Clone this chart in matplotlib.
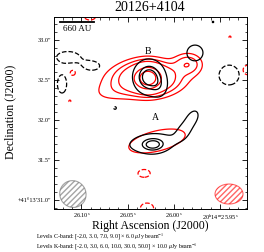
import numpy as np
import matplotlib
matplotlib.use("Agg")
import matplotlib.pyplot as plt
from matplotlib.patches import Ellipse
from matplotlib.ticker import FixedLocator, AutoMinorLocator

plt.rcParams['font.family'] = ['Liberation Serif', 'DejaVu Serif']
plt.rcParams['mathtext.fontset'] = 'stix'

title = "20126+4104"

# contour levels (units of rms) and rms in uJy/beam
levels_c = [-2.0, 3.0, 7.0, 9.0]
rms_c = 6.0
levels_k = [-2.0, 3.0, 6.0, 10.0, 30.0, 50.0]
rms_k = 10.0

# gaussian components: RA (s), Dec ("), peak (rms), sx ("), sy ("), angle (deg)
k_ra = [26.0280, 26.0280, 26.0312, 26.0658, 25.9846, 26.0182,
        26.1125, 26.1092, 26.0908, 25.9391, 25.9196, 26.0323, 26.0290]
k_dec = [32.525, 32.525, 32.5125, 32.35, 32.70, 31.7375,
         32.2375, 32.5875, 33.29, 33.0375, 32.625, 31.3375, 30.90]
k_peak = [40, 25, 6, 3, 9, 5,
          -2.3, -2.5, -2.5, -2.1, -2.5, -2.6, -2.6]
k_sx = [0.0875, 0.20, 0.35, 0.225, 0.1125, 0.35,
        0.0375, 0.0625, 0.10, 0.0375, 0.09, 0.11, 0.11]
k_sy = [0.0875, 0.125, 0.125, 0.10, 0.0875, 0.125,
        0.0375, 0.0625, 0.06, 0.0375, 0.09, 0.075, 0.085]
k_ang = [0, 0, 0, -10, 0, -14,
         0, 0, 0, 0, 0, 0, 0]

c_ra = [26.0269, 26.0150, 25.9770, 26.0225, 26.0236, 25.9889, 25.9792,
        26.1146, 26.0886, 26.1211, 25.9402, 26.0637, 25.9575]
c_dec = [32.5375, 32.40, 32.8375, 31.6875, 31.7125, 31.875, 32.0375,
         32.7875, 32.675, 32.45, 32.5625, 32.15, 33.225]
c_peak = [11, 3, 4, 6, 5, 3.6, 4,
          -3, -2.8, -3, -3, -2.2, -2.1]
c_sx = [0.125, 0.075, 0.13, 0.10, 0.26, 0.07, 0.065,
        0.15, 0.11, 0.0625, 0.1375, 0.0375, 0.03]
c_sy = [0.14, 0.10, 0.13, 0.0625, 0.10, 0.10, 0.10,
        0.075, 0.0625, 0.125, 0.1375, 0.0375, 0.03]
c_ang = [0, 0, 0, 0, -5, 35, 30,
         0, 0, 0, 0, 0, 0]

# synthesized beams in axes fraction: x, y, width, height, angle
beam_c = (0.098, 0.078, 0.135, 0.141, 30)
beam_k = (0.907, 0.078, 0.145, 0.104, 0)

ra_scale = 15 * np.cos(np.radians(41.225))  # arcsec per second of RA

ra = np.linspace(25.90, 26.15, 500)
dec = np.linspace(30.80, 33.40, 500)
RA, DEC = np.meshgrid(ra, dec)


def model(ras, decs, peaks, sxs, sys_, angs):
    img = np.zeros_like(RA)
    for r0, d0, p, sx, sy, a in zip(ras, decs, peaks, sxs, sys_, angs):
        dx = (RA - r0) * ra_scale
        dy = DEC - d0
        t = np.radians(a)
        u = dx * np.cos(t) + dy * np.sin(t)
        v = -dx * np.sin(t) + dy * np.cos(t)
        img += p * np.exp(-0.5 * ((u / sx) ** 2 + (v / sy) ** 2))
    return img


img_k = model(k_ra, k_dec, k_peak, k_sx, k_sy, k_ang)
img_c = model(c_ra, c_dec, c_peak, c_sx, c_sy, c_ang)

fig = plt.figure(figsize=(2.64, 2.52), dpi=100)
ax = fig.add_axes([0.2045, 0.1706, 0.731, 0.762])

ax.contour(RA, DEC, img_k, levels=levels_k, colors='red', linewidths=0.9)
ax.contour(RA, DEC, img_c, levels=levels_c, colors='black', linewidths=0.9)

for (x0, y0, w, h, a), col in [(beam_c, 'dimgray'), (beam_k, 'red')]:
    e = Ellipse((x0, y0), w, h, angle=a, transform=ax.transAxes, facecolor='none',
                edgecolor=col, hatch='//////', lw=0.8, alpha=0.6)
    ax.add_patch(e)

ax.set_xlim(26.1298, 25.9207)
ax.set_ylim(30.8875, 33.2875)

ax.xaxis.set_major_locator(FixedLocator([26.10, 26.05, 26.00, 25.95]))
ax.set_xticklabels([r"26.10$^{\rm s}$", r"26.05$^{\rm s}$", r"26.00$^{\rm s}$",
                    r"20$^{\rm h}$14$^{\rm m}$25.95$^{\rm s}$"])
ax.yaxis.set_major_locator(FixedLocator([31.0, 31.5, 32.0, 32.5, 33.0]))
ax.set_yticklabels(["+41°13′31.0″", "31.5″", "32.0″", "32.5″", "33.0″"])
ax.xaxis.set_minor_locator(AutoMinorLocator(5))
ax.yaxis.set_minor_locator(AutoMinorLocator(5))
ax.tick_params(which='both', direction='in', top=True, right=True, labelsize=4.5, pad=2)
ax.tick_params(which='major', length=3.5, width=0.6)
ax.tick_params(which='minor', length=1.8, width=0.5)
for s in ax.spines.values():
    s.set_linewidth(0.7)

# scale bar
ax.plot([0.031, 0.207], [0.974, 0.974], transform=ax.transAxes, color='black', lw=1.3)
ax.text(0.119, 0.935, "660 AU", transform=ax.transAxes, ha='center', va='center', fontsize=6.5)

ax.text(0.487, 0.818, "B", transform=ax.transAxes, ha='center', va='center', fontsize=7)
ax.text(0.523, 0.479, "A", transform=ax.transAxes, ha='center', va='center', fontsize=7)

fig.text(0.568, 0.972, title, ha='center', va='center', fontsize=10)
fig.text(0.568, 0.102, "Right Ascension (J2000)", ha='center', va='center', fontsize=8.5)
fig.text(0.038, 0.556, "Declination (J2000)", ha='center', va='center', rotation=90, fontsize=8.5)

txt_c = "Levels C-band: [" + ", ".join(f"{v:.1f}" for v in levels_c) + "] × " + \
    f"{rms_c:.1f}" + r" $\mu$Jy beam$^{-1}$"
txt_k = "Levels K-band: [" + ", ".join(f"{v:.1f}" for v in levels_k) + "] × " + \
    f"{rms_k:.1f}" + r" $\mu$Jy beam$^{-1}$"
fig.text(0.136, 0.060, txt_c, ha='left', va='center', fontsize=4.3)
fig.text(0.136, 0.022, txt_k, ha='left', va='center', fontsize=4.3)

fig.savefig("out.png", dpi=100)
